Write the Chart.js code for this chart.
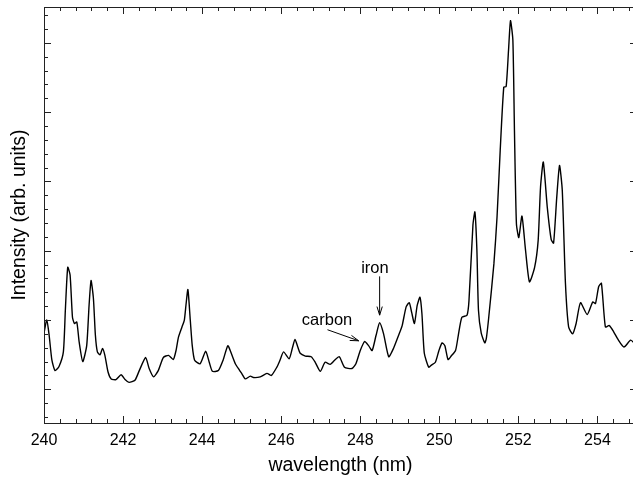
<!DOCTYPE html>
<html>
<head>
<meta charset="utf-8">
<script src="https://cdn.jsdelivr.net/npm/chart.js@4/dist/chart.umd.min.js"></script>
<style>
  body { margin: 0; background: #fff; overflow: hidden; }
  #wrap { width: 637px; height: 478px; }
</style>
</head>
<body>
<div id="wrap"><canvas id="myChart"></canvas></div>
<script>
// spectrum: wavelength (nm) and intensity (arb. units)
var wavelength = [
  240.00, 240.07, 240.13, 240.20, 240.28, 240.38, 240.49, 240.54, 240.60, 240.66,
  240.72, 240.77, 240.83, 240.89, 240.98, 241.08, 241.14, 241.19, 241.25, 241.30,
  241.35, 241.42, 241.48, 241.54, 241.62, 241.70, 241.82, 241.95, 242.05, 242.15,
  242.30, 242.41, 242.57, 242.66, 242.77, 242.89, 243.02, 243.15, 243.27, 243.34,
  243.40, 243.49, 243.55, 243.59, 243.64, 243.70, 243.75, 243.81, 243.95, 244.09,
  244.18, 244.26, 244.41, 244.53, 244.65, 244.73, 244.84, 244.94, 245.01, 245.09,
  245.22, 245.30, 245.47, 245.64, 245.75, 245.89, 245.97, 246.06, 246.20, 246.28,
  246.35, 246.42, 246.48, 246.61, 246.76, 246.86, 246.99, 247.11, 247.24, 247.35,
  247.47, 247.60, 247.79, 247.89, 248.00, 248.11, 248.21, 248.30, 248.40, 248.49,
  248.59, 248.72, 248.84, 248.97, 249.06, 249.16, 249.24, 249.30, 249.37, 249.44,
  249.51, 249.56, 249.62, 249.73, 249.80, 249.90, 249.99, 250.07, 250.14, 250.22,
  250.30, 250.41, 250.48, 250.57, 250.70, 250.75, 250.85, 250.90, 250.95, 250.99,
  251.06, 251.15, 251.19, 251.25, 251.38, 251.46, 251.54, 251.63, 251.69, 251.75,
  251.80, 251.86, 251.90, 251.95, 252.01, 252.09, 252.18, 252.28, 252.41, 252.50,
  252.56, 252.63, 252.73, 252.83, 252.89, 252.97, 253.04, 253.11, 253.19, 253.27,
  253.37, 253.46, 253.57, 253.74, 253.88, 253.95, 254.03, 254.10, 254.20, 254.30,
  254.41, 254.52, 254.67, 254.84, 254.94
];
var intensity = [
  1.81, 2.00, 1.78, 1.42, 1.27, 1.33, 1.54, 2.14, 2.76, 2.65,
  2.04, 1.95, 1.97, 1.68, 1.40, 1.63, 2.21, 2.57, 2.31, 1.78,
  1.54, 1.50, 1.59, 1.49, 1.25, 1.15, 1.14, 1.21, 1.14, 1.10,
  1.13, 1.27, 1.46, 1.30, 1.18, 1.27, 1.46, 1.49, 1.43, 1.56,
  1.75, 1.90, 2.00, 2.21, 2.44, 2.00, 1.63, 1.42, 1.37, 1.55,
  1.39, 1.26, 1.27, 1.42, 1.63, 1.53, 1.37, 1.28, 1.22, 1.15,
  1.19, 1.17, 1.18, 1.23, 1.20, 1.32, 1.42, 1.54, 1.44, 1.59,
  1.72, 1.61, 1.52, 1.48, 1.47, 1.39, 1.26, 1.39, 1.36, 1.42,
  1.47, 1.32, 1.30, 1.37, 1.56, 1.69, 1.63, 1.56, 1.78, 1.96,
  1.80, 1.47, 1.59, 1.78, 1.92, 2.19, 2.25, 2.11, 1.95, 2.21,
  2.33, 2.09, 1.52, 1.32, 1.35, 1.39, 1.56, 1.67, 1.63, 1.43,
  1.48, 1.56, 1.78, 2.04, 2.07, 2.28, 3.37, 3.56, 3.01, 2.14,
  1.81, 1.67, 1.74, 2.04, 2.81, 3.49, 4.45, 5.36, 5.37, 5.89,
  6.32, 6.04, 4.74, 3.39, 3.19, 3.50, 3.01, 2.55, 2.76, 3.15,
  3.92, 4.28, 3.63, 3.16, 3.11, 3.77, 4.23, 3.87, 2.53, 1.90,
  1.80, 1.95, 2.25, 2.08, 2.26, 2.24, 2.48, 2.53, 1.90, 1.92,
  1.83, 1.72, 1.61, 1.71, 1.66
];
var xTickLabels = [240, 242, 244, 246, 248, 250, 252, 254];

// text labels with arrows: [text, textX, textY, arrowFromX, arrowFromY, arrowToX, arrowToY]
var notes = [
  ["iron", 248.37, 2.75, 248.49, 2.63, 248.49, 2.07],
  ["carbon", 247.16, 1.99, 247.17, 1.86, 247.96, 1.70]
];

var fontName = "'Liberation Sans', Arial, sans-serif";

// frame, inward ticks and the arrows
var frameAndTicks = {
  id: 'frameAndTicks',
  afterDraw: function (chart) {
    var ctx = chart.ctx;
    var a = chart.chartArea;
    var xs = chart.scales.x;
    var ys = chart.scales.y;
    ctx.save();
    ctx.strokeStyle = '#222';
    ctx.lineWidth = 1;
    ctx.strokeRect(a.left + 0.5, a.top + 0.5, a.right - a.left, a.bottom - a.top);

    ctx.beginPath();
    for (var i = 0; i * 0.4 <= 15.001; i++) {
      var v = 240 + i * 0.4;
      var px = Math.round(xs.getPixelForValue(v)) + 0.5;
      var len = (i % 5 === 0) ? 7 : 4;
      ctx.moveTo(px, a.bottom);
      ctx.lineTo(px, a.bottom - len);
      ctx.moveTo(px, a.top);
      ctx.lineTo(px, a.top + len);
    }
    for (var j = 3; j * 0.2 <= 6.41; j++) {
      var w = j * 0.2;
      var py = Math.round(ys.getPixelForValue(w)) + 0.5;
      var major = (j % 5 === 0);
      ctx.moveTo(a.left, py);
      ctx.lineTo(a.left + (major ? 7 : 4), py);
      if (major) {
        ctx.moveTo(a.right, py);
        ctx.lineTo(a.right - 7, py);
      }
    }
    ctx.stroke();

    ctx.fillStyle = '#000';
    ctx.strokeStyle = '#000';
    ctx.font = '16.5px ' + fontName;
    ctx.textAlign = 'center';
    ctx.textBaseline = 'middle';
    notes.forEach(function (n) {
      ctx.fillText(n[0], xs.getPixelForValue(n[1]), ys.getPixelForValue(n[2]));
      var x1 = xs.getPixelForValue(n[3]), y1 = ys.getPixelForValue(n[4]);
      var x2 = xs.getPixelForValue(n[5]), y2 = ys.getPixelForValue(n[6]);
      var ang = Math.atan2(y2 - y1, x2 - x1);
      ctx.beginPath();
      ctx.moveTo(x1, y1);
      ctx.lineTo(x2, y2);
      ctx.moveTo(x2 - 9 * Math.cos(ang - 0.3), y2 - 9 * Math.sin(ang - 0.3));
      ctx.lineTo(x2, y2);
      ctx.lineTo(x2 - 9 * Math.cos(ang + 0.3), y2 - 9 * Math.sin(ang + 0.3));
      ctx.lineWidth = 1;
      ctx.stroke();
    });
    ctx.restore();
  }
};

var points = wavelength.map(function (w, i) { return { x: w, y: intensity[i] }; });

var ctx = document.getElementById('myChart').getContext('2d');
var myChart = new Chart(ctx, {
  type: 'line',
  data: {
    datasets: [{
      data: points,
      borderColor: '#000',
      borderWidth: 1.4,
      pointRadius: 0,
      tension: 0.2,
      fill: false
    }]
  },
  options: {
    responsive: true,
    maintainAspectRatio: false,
    animation: false,
    layout: { padding: { top: 7, right: 0, left: 0, bottom: 0 } },
    plugins: { legend: { display: false }, tooltip: { enabled: false } },
    scales: {
      x: {
        type: 'linear',
        min: 240,
        max: 255,
        afterBuildTicks: function (s) {
          s.ticks = xTickLabels.map(function (v) { return { value: v }; });
        },
        afterFit: function (s) { s.height = 55; },
        grid: { display: false, drawTicks: false },
        border: { display: false },
        ticks: {
          padding: 8,
          autoSkip: false,
          color: '#000',
          font: { family: fontName, size: 16 },
          maxRotation: 0,
          callback: function (v) { return String(v); }
        },
        title: {
          display: true,
          text: 'wavelength (nm)',
          color: '#000',
          font: { family: fontName, size: 19.5 },
          padding: { top: 0, bottom: 1 }
        }
      },
      y: {
        min: 0.514,
        max: 6.517,
        afterFit: function (s) { s.width = 44; },
        grid: { display: false, drawTicks: false },
        border: { display: false },
        ticks: { display: false },
        title: {
          display: true,
          text: 'Intensity (arb. units)',
          color: '#000',
          font: { family: fontName, size: 19.5 },
          padding: { top: 8, bottom: 0 }
        }
      }
    }
  },
  plugins: [frameAndTicks]
});
</script>
</body>
</html>
